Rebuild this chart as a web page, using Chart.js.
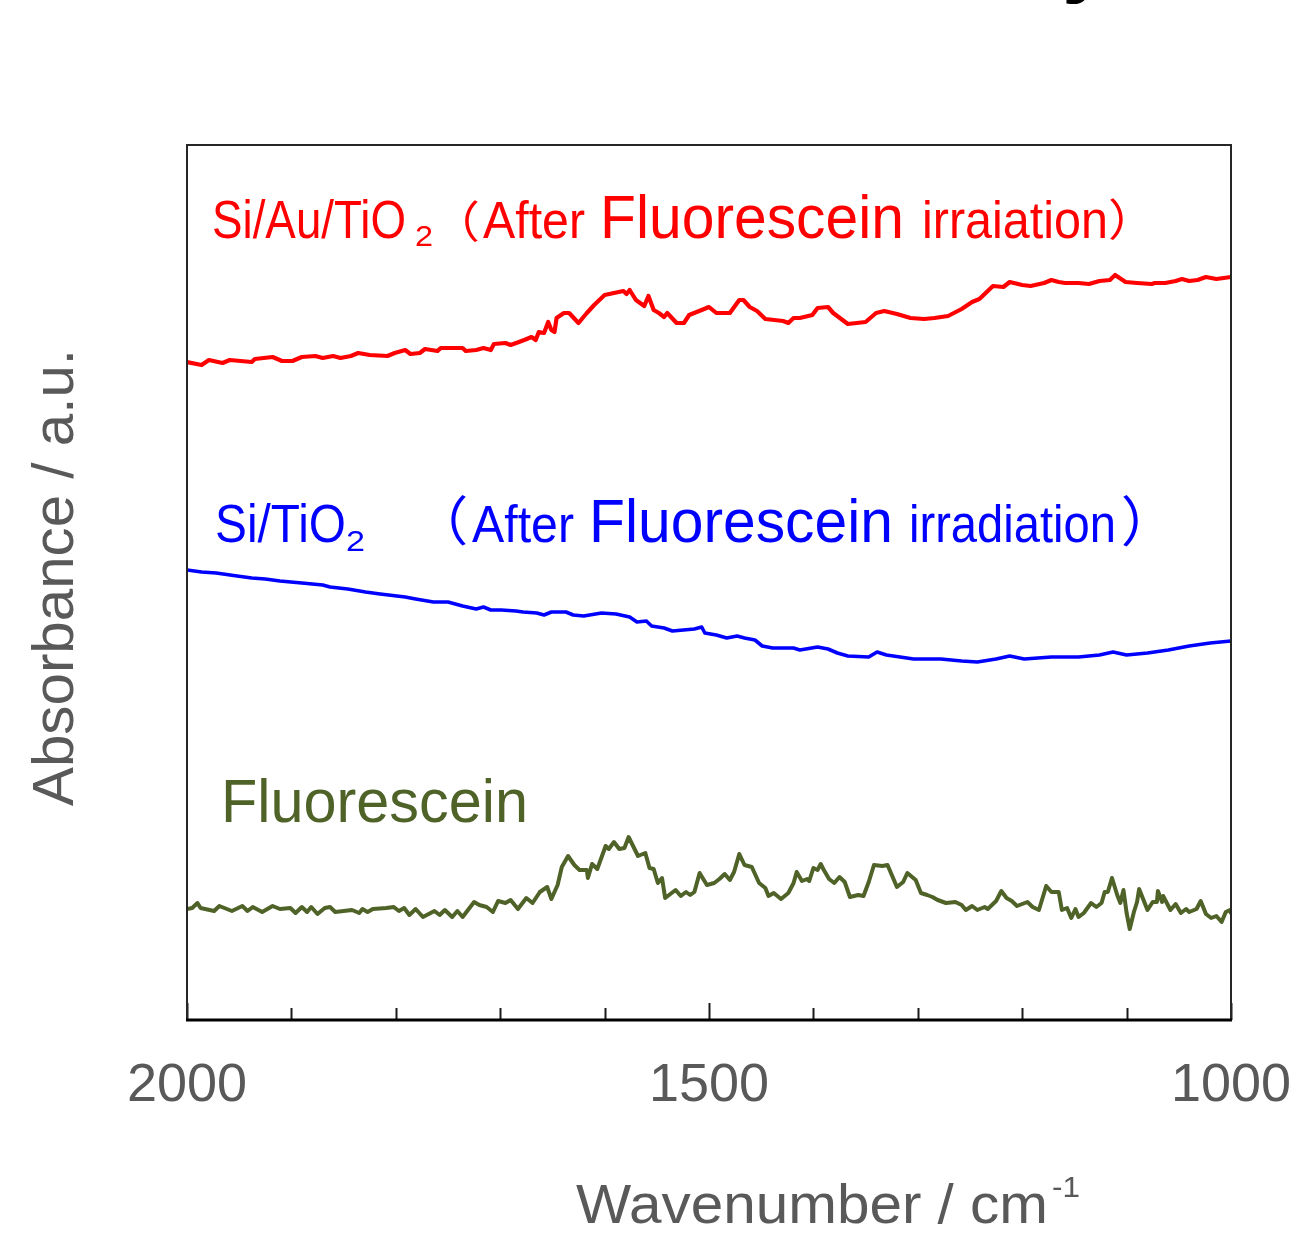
<!DOCTYPE html>
<html>
<head>
<meta charset="utf-8">
<script src="https://cdn.jsdelivr.net/npm/chart.js@4.4.1/dist/chart.umd.min.js"></script>
<style>
  html, body { margin: 0; padding: 0; background: #fff; }
  #chart { display: block; }
</style>
</head>
<body>
<canvas id="chart" width="1291" height="1235"></canvas>
<script>
// ─────────────────────────────────────────
//  DATA  (wavenumber / cm-1, absorbance in a.u., offset per trace)
// ─────────────────────────────────────────
const xTickLabels = [2000, 1500, 1000];

const redWn  = [2000,1986,1979,1966,1959,1938,1935,1918,1909,1899,1890,1877,1870,1860,1853,1843,1836,1825,1808,1801,
                1791,1786,1777,1772,1760,1757,1736,1733,1723,1716,1709,1706,1695,1690,1682,1677,1670,1666,1663,1658,
                1654,1651,1648,1646,1639,1634,1625,1617,1610,1600,1591,1582,1579,1576,1570,1562,1558,1553,1548,1543,
                1540,1531,1524,1519,1507,1500,1493,1480,1471,1467,1461,1454,1446,1429,1424,1419,1413,1401,1396,1386,
                1381,1367,1350,1340,1332,1320,1307,1294,1284,1271,1258,1248,1241,1228,1218,1212,1200,1192,1179,1172,
                1165,1159,1146,1136,1126,1116,1111,1101,1090,1076,1073,1063,1053,1047,1040,1032,1024,1014,1007,1000];
const redAbs = [65.8,65.5,66.0,65.7,66.0,65.8,66.1,66.3,65.9,65.9,66.3,66.4,66.2,66.4,66.2,66.4,66.7,66.5,66.4,66.7,
                67.0,66.6,66.7,67.1,66.9,67.2,67.2,66.9,67.0,67.2,67.0,67.6,67.7,67.5,67.8,68.0,68.3,68.0,68.8,68.7,
                69.8,69.0,68.8,70.2,70.7,70.7,69.7,70.7,71.5,72.5,72.7,72.9,72.6,73.0,72.0,71.4,72.4,71.0,70.7,70.3,
                70.7,69.7,69.7,70.5,71.0,71.3,70.7,70.7,72.0,72.0,71.3,70.9,70.1,69.9,69.7,70.2,70.2,70.5,71.2,71.3,
                70.7,69.6,69.8,70.7,70.9,70.6,70.2,70.1,70.2,70.4,71.1,71.8,72.1,73.4,73.3,73.8,73.5,73.4,73.7,74.0,
                73.8,73.7,73.7,73.6,73.9,74.0,74.5,73.8,73.7,73.6,73.7,73.7,73.9,74.1,73.9,74.0,74.3,74.1,74.2,74.3];

const blueWn  = [2000,1986,1972,1952,1938,1925,1911,1890,1870,1863,1846,1829,1815,1791,1781,1764,1750,1736,1723,1716,
                 1709,1699,1685,1678,1665,1658,1651,1637,1630,1620,1603,1589,1576,1569,1560,1555,1543,1535,1514,1507,
                 1504,1493,1483,1473,1466,1456,1449,1439,1419,1413,1396,1386,1377,1367,1347,1339,1330,1304,1278,1258,
                 1243,1225,1212,1198,1172,1146,1126,1113,1100,1080,1060,1040,1020,1000];
const blueAbs = [45.0,44.8,44.7,44.4,44.2,44.1,43.9,43.7,43.5,43.3,43.1,42.8,42.6,42.3,42.1,41.8,41.8,41.4,41.1,41.3,
                 41.0,41.0,40.9,40.8,40.7,40.5,40.8,40.8,40.5,40.4,40.7,40.6,40.3,39.8,39.9,39.4,39.2,38.9,39.1,39.3,
                 38.7,38.5,38.2,38.4,38.2,38.0,37.4,37.2,37.2,37.0,37.3,37.1,36.7,36.4,36.3,36.8,36.5,36.1,36.1,35.9,
                 35.8,36.1,36.4,36.1,36.3,36.3,36.5,36.8,36.5,36.7,37.0,37.4,37.7,37.9];

const greenWn  = [2000,1995,1990,1987,1974,1969,1957,1947,1942,1937,1928,1918,1911,1901,1896,1890,1885,1881,1875,1868,
                  1863,1858,1842,1835,1832,1827,1822,1809,1802,1797,1792,1787,1781,1774,1763,1758,1753,1746,1741,1736,
                  1725,1720,1713,1707,1702,1695,1690,1683,1675,1669,1662,1655,1651,1645,1641,1635,1629,1624,1617,1616,
                  1612,1607,1599,1596,1591,1586,1581,1577,1568,1561,1557,1553,1549,1545,1542,1537,1532,1527,1522,1518,
                  1514,1509,1502,1495,1490,1485,1480,1476,1471,1466,1459,1452,1446,1443,1438,1431,1424,1419,1416,1411,
                  1406,1404,1400,1396,1393,1390,1385,1380,1375,1370,1365,1357,1352,1347,1342,1334,1329,1320,1314,1310,
                  1302,1297,1291,1286,1281,1273,1264,1258,1254,1248,1243,1236,1233,1225,1220,1215,1210,1205,1195,1190,
                  1184,1177,1172,1165,1162,1157,1153,1149,1146,1141,1134,1129,1124,1121,1118,1114,1109,1106,1103,1100,
                  1097,1093,1090,1088,1080,1075,1071,1070,1066,1065,1058,1053,1048,1043,1040,1033,1029,1024,1019,1014,
                  1009,1005,1001,1000];
const greenAbs = [11.1,11.2,11.7,11.2,10.9,11.4,10.9,11.4,10.9,11.3,10.8,11.4,11.1,11.2,10.7,11.3,10.8,11.3,10.6,11.2,
                  11.3,10.8,11.0,10.7,11.1,10.8,11.1,11.2,11.3,10.9,11.2,10.5,11.1,10.3,10.9,10.5,11.0,10.3,10.9,10.3,
                  11.8,11.5,11.3,10.8,11.9,11.7,12.0,11.1,12.2,11.7,12.8,13.3,12.1,13.5,15.3,16.4,15.5,15.0,15.0,14.2,
                  15.6,15.1,17.4,17.1,17.8,17.1,17.2,18.3,16.4,16.7,15.2,15.1,13.7,14.2,12.2,12.6,13.0,12.4,12.8,12.5,
                  12.8,14.7,13.5,13.7,14.1,14.6,14.0,14.8,16.6,15.5,15.3,13.7,13.2,12.4,12.7,12.1,12.7,13.7,14.8,13.9,
                  14.1,13.9,15.2,15.0,15.6,15.0,14.1,13.7,14.3,13.8,12.3,12.5,12.4,13.8,15.5,15.4,15.5,13.3,13.8,14.7,
                  14.0,12.7,12.5,12.3,12.0,11.7,11.8,11.5,11.0,11.4,11.0,11.3,11.1,11.9,12.9,12.2,11.9,11.4,11.8,11.3,
                  11.0,13.4,12.8,12.8,11.0,11.2,10.2,11.1,10.3,10.7,11.7,11.3,11.7,12.8,12.8,14.2,12.5,11.7,13.0,10.7,
                  9.1,10.8,11.8,13.1,11.0,11.8,11.8,12.9,11.8,12.4,11.0,11.6,10.7,11.1,10.8,11.1,11.9,10.6,10.2,10.4,
                  9.8,10.8,11.0,10.7];

// ─────────────────────────────────────────
//  STYLE
// ─────────────────────────────────────────
const FONT     = '"Liberation Sans", Arial, sans-serif';
const CJK      = '"Noto Sans CJK JP", sans-serif';
const AXIS_TXT = '#595959';
const RED      = '#ff0000';
const BLUE     = '#0000ff';
const OLIVE    = '#4f6228';

const toPoints = (xs, ys) => xs.map((x, i) => ({ x, y: ys[i] }));

// text squeezed/stretched horizontally to a given advance width
function fitText(ctx, str, x, y, size, width, color, weight) {
  ctx.save();
  ctx.font = (weight || '') + ' ' + size + 'px ' + FONT;
  ctx.fillStyle = color;
  ctx.textBaseline = 'alphabetic';
  ctx.textAlign = 'left';
  const w = ctx.measureText(str).width;
  ctx.translate(x, y);
  if (width) ctx.scale(width / w, 1);
  ctx.fillText(str, 0, 0);
  ctx.restore();
}

// glyph fitted into an ink box (used for the full-width brackets)
function fitInk(ctx, str, x0, x1, y0, y1, color) {
  ctx.save();
  ctx.font = '100px ' + CJK;
  ctx.textBaseline = 'alphabetic';
  ctx.textAlign = 'left';
  const m = ctx.measureText(str);
  const iw = m.actualBoundingBoxLeft + m.actualBoundingBoxRight;
  const ih = m.actualBoundingBoxAscent + m.actualBoundingBoxDescent;
  const sx = (x1 - x0) / iw, sy = (y1 - y0) / ih;
  ctx.translate(x0, y0);
  ctx.scale(sx, sy);
  ctx.fillStyle = color;
  ctx.fillText(str, m.actualBoundingBoxLeft, m.actualBoundingBoxAscent);
  ctx.restore();
}

// ── frame, inward ticks, labels ────────────────────────────
const decor = {
  id: 'decor',
  afterDraw(chart) {
    const { ctx, chartArea: a, scales: { x } } = chart;

    // inward tick marks on the wavenumber axis
    ctx.save();
    ctx.strokeStyle = '#1a1a1a';
    ctx.lineWidth = 2;
    x.ticks.forEach(t => {
      const px = Math.round(x.getPixelForValue(t.value)) + 0.5;
      const len = xTickLabels.includes(t.value) ? 17 : 12;
      ctx.beginPath();
      ctx.moveTo(px, a.bottom);
      ctx.lineTo(px, a.bottom - len);
      ctx.stroke();
    });

    // plot frame
    ctx.lineWidth = 2;
    ctx.strokeStyle = '#262626';
    ctx.strokeRect(a.left, a.top, a.right - a.left, a.bottom - a.top);
    ctx.lineWidth = 3;
    ctx.strokeStyle = '#000';
    ctx.beginPath();
    ctx.moveTo(a.left - 1, a.bottom);
    ctx.lineTo(a.right + 1, a.bottom);
    ctx.stroke();
    ctx.restore();

    // trace labels
    fitText(ctx, 'Si/Au/TiO',  212, 238, 54, 194, RED);
    fitText(ctx, '2',          415, 246, 30, 18,  RED);
    fitInk(ctx, '（', 465, 478, 200, 242, RED);
    fitText(ctx, 'After',      483, 238, 52, 102, RED);
    fitText(ctx, 'Fluorescein',600, 238, 62, 304, RED);
    fitText(ctx, 'irraiation', 922, 238, 51, 186, RED);
    fitInk(ctx, '）', 1110, 1123, 198, 240, RED);

    fitText(ctx, 'Si/TiO',     215, 542, 54, 131, BLUE);
    fitText(ctx, '2',          346, 551, 30, 19,  BLUE);
    fitInk(ctx, '（', 451, 466, 495, 546, BLUE);
    fitText(ctx, 'After',      472, 542, 52, 102, BLUE);
    fitText(ctx, 'Fluorescein',589, 542, 62, 304, BLUE);
    fitText(ctx, 'irradiation',909, 542, 51, 207, BLUE);
    fitInk(ctx, '）', 1123, 1138, 494, 546, BLUE);

    fitText(ctx, 'Fluorescein',221, 822, 62, 307, OLIVE);

    // axis titles
    fitText(ctx, 'Wavenumber / cm', 576, 1223, 56, 472, AXIS_TXT);
    fitText(ctx, '-1',             1052, 1197, 30, 28,  AXIS_TXT);

    ctx.save();
    ctx.translate(73, 806);
    ctx.rotate(-Math.PI / 2);
    fitText(ctx, 'Absorbance / a.u.', 0, 0, 58, 457, AXIS_TXT);
    ctx.restore();

    // tail of a cut-off heading above the figure
    fitText(ctx, 'y', 1062, -14, 86, 0, '#000', 'bold');
  },
};

// ─────────────────────────────────────────
//  CHART
// ─────────────────────────────────────────
const lineStyle = { pointRadius: 0, tension: 0, fill: false, borderJoinStyle: 'round', borderCapStyle: 'round' };

new Chart(document.getElementById('chart').getContext('2d'), {
  type: 'line',
  data: {
    datasets: [
      { label: 'Si/Au/TiO2', data: toPoints(redWn, redAbs),     borderColor: RED,   borderWidth: 4.2, ...lineStyle },
      { label: 'Si/TiO2',    data: toPoints(blueWn, blueAbs),   borderColor: BLUE,  borderWidth: 3.6, ...lineStyle },
      { label: 'Fluorescein',data: toPoints(greenWn, greenAbs), borderColor: OLIVE, borderWidth: 4,   ...lineStyle },
    ],
  },
  options: {
    responsive: false,
    animation: false,
    devicePixelRatio: 1,
    layout: { padding: { left: 187, top: 145, right: 60, bottom: 0 } },
    plugins: { legend: { display: false }, tooltip: { enabled: false } },
    scales: {
      x: {
        type: 'linear',
        reverse: true,
        min: 1000,
        max: 2000,
        grid: { display: false },
        border: { display: false },
        ticks: {
          stepSize: 100,
          autoSkip: false,
          maxRotation: 0,
          padding: 26,
          color: AXIS_TXT,
          font: { family: FONT, size: 54 },
          callback: v => xTickLabels.includes(v) ? String(v) : '',
        },
        afterFit: s => { s.height = 215; s.paddingLeft = 0; s.paddingRight = 0; },
      },
      y: { type: 'linear', min: 0, max: 87.5, display: false },
    },
  },
  plugins: [decor],
});
</script>
</body>
</html>
